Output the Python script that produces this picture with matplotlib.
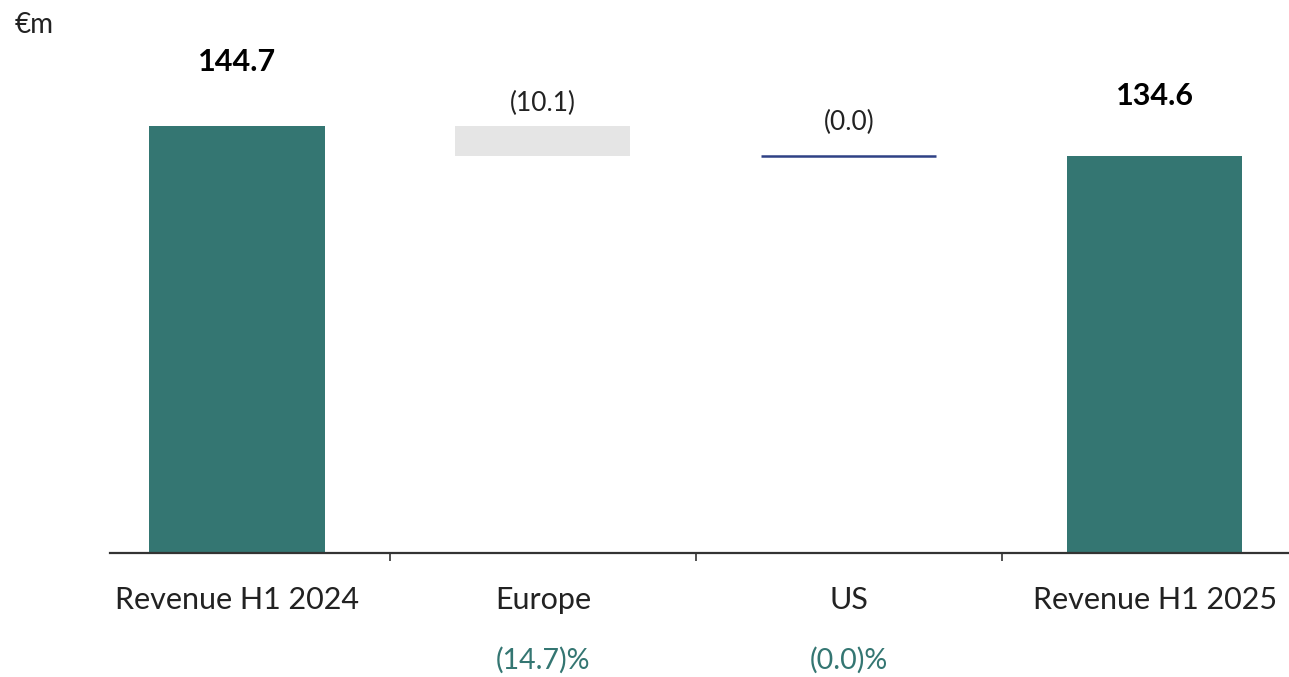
import numpy as np
import matplotlib
matplotlib.use("Agg")
import matplotlib.pyplot as plt
from matplotlib.ticker import FixedLocator

plt.rcParams["font.family"] = ["Lato", "DejaVu Sans"]

# data
categories = ["Revenue H1 2024", "Europe", "US", "Revenue H1 2025"]
values = [144.7, -10.1, -0.0, 134.6]
kinds = ["total", "delta", "delta", "total"]
value_labels = ["144.7", "(10.1)", "(0.0)", "134.6"]
pct_labels = ["", "(14.7)%", "(0.0)%", ""]

teal = "#347672"
grey = "#e5e5e5"
navy = "#2f4185"

fig = plt.figure(figsize=(12.89, 6.77), dpi=100)
ax = fig.add_axes([110 / 1289, 124 / 677, 1179 / 1289, 553 / 677])

x = np.arange(len(categories))
width = 0.572

running = 0.0
for i, (v, k) in enumerate(zip(values, kinds)):
    if k == "total":
        ax.bar(x[i], v, width=width, color=teal, zorder=2)
        running = v
        ax.annotate(value_labels[i], (x[i], v), xytext=(0, 46 if i == 0 else 43),
                    textcoords="offset points", ha="center", va="center",
                    fontsize=22, fontweight="bold", color="black")
    else:
        start = running
        running = running + v
        if abs(v) < 0.5:
            # negligible change drawn as a thin line
            ax.hlines(start, x[i] - width / 2, x[i] + width / 2, color=navy, lw=1.8, zorder=2)
            off = 24
        else:
            ax.bar(x[i], v, bottom=start, width=width, color=grey, zorder=2)
            off = 16
        ax.annotate(value_labels[i], (x[i], start), xytext=(0, off),
                    textcoords="offset points", ha="center", va="center",
                    fontsize=19, color="#222222")

# percentage labels under the category names
for i, p in enumerate(pct_labels):
    if p:
        ax.annotate(p, (x[i], 0), xytext=(0, -77), textcoords="offset points",
                    ha="center", va="center", fontsize=20.5, color=teal,
                    annotation_clip=False)

ax.set_xlim(-0.415, 3.438)
ax.set_ylim(0, 187.4)

for s in ["top", "right", "left"]:
    ax.spines[s].set_visible(False)
ax.spines["bottom"].set_color("#333333")
ax.spines["bottom"].set_linewidth(1.6)
ax.set_yticks([])

ax.set_xticks(x)
ax.set_xticklabels(categories, fontsize=22, color="#222222")
ax.tick_params(axis="x", which="major", length=0, pad=24)
ax.xaxis.set_minor_locator(FixedLocator([0.5, 1.5, 2.5]))
ax.tick_params(axis="x", which="minor", length=6, width=1.2, color="#333333")

fig.text(15 / 1289, 1 - 25 / 677, "€m", fontsize=20, ha="left", va="center", color="#222222")

fig.savefig("out.png", dpi=100)
